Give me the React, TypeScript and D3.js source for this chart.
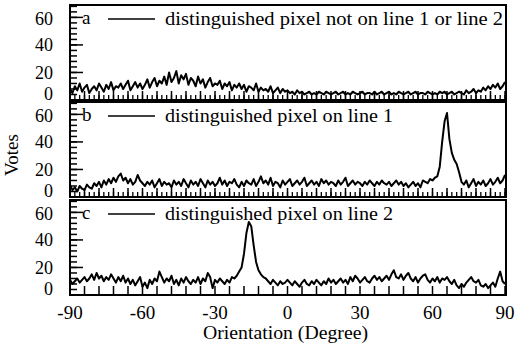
import React from "react";
import * as d3 from "d3";

// orientation bins, one per degree
const orientations = d3.range(-90, 91);

// votes, panel a: distinguished pixel not on line 1 or line 2
const votesA = [
  8, 5, 10, 7, 12, 6, 9, 11, 5, 8, 10,
  7, 12, 9, 6, 11, 8, 13, 7, 10, 9,
  12, 8, 11, 14, 7, 10, 13, 9, 12, 8,
  11, 15, 9, 13, 16, 10, 14, 12, 17, 11,
  20, 13, 16, 21, 12, 18, 15, 19, 11, 16,
  14, 10, 17, 12, 15, 9, 13, 16, 10, 12,
  11, 14, 8, 12, 10, 13, 7, 11, 9, 12,
  8, 11, 6, 10, 9, 7, 12, 6, 9, 7,
  8, 6, 10, 5, 7, 9, 5, 8, 6, 7,
  5, 6, 4, 7, 5, 6, 4, 5, 6, 4,
  5, 4, 6, 5, 4, 6, 5, 4, 5, 6,
  4, 5, 6, 4, 5, 4, 6, 5, 4, 5,
  6, 4, 5, 5, 4, 6, 4, 5, 6, 4,
  5, 6, 4, 5, 4, 6, 5, 4, 5, 6,
  4, 5, 6, 4, 5, 5, 4, 6, 5, 4,
  5, 4, 6, 5, 6, 4, 5, 6, 4, 5,
  6, 5, 4, 7, 5, 6, 8, 5, 7, 6,
  9, 7, 10, 8, 11, 9, 12, 8, 10, 13,
];

// votes, panel b: distinguished pixel on line 1
const votesB = [
  9, 5, 7, 4, 8, 6, 5, 9, 7, 6, 10,
  8, 11, 7, 12, 9, 13, 10, 14, 11, 15,
  17, 12, 14, 10, 13, 9, 11, 16, 12, 10,
  8, 11, 9, 12, 7, 10, 13, 8, 11, 9,
  10, 7, 12, 9, 11, 8, 13, 10, 7, 12,
  9, 11, 8, 13, 10, 7, 12, 9, 11, 8,
  10, 14, 9, 12, 8, 11, 10, 13, 9, 7,
  11, 8, 12, 10, 9, 13, 8, 11, 15, 10,
  12, 9, 14, 8, 11, 10, 7, 12, 9, 11,
  13, 8, 10, 12, 9, 11, 14, 8, 10, 12,
  9, 11, 8, 13, 10, 12, 9, 11, 10, 8,
  12, 9, 11, 14, 8, 10, 12, 9, 11, 10,
  8, 11, 9, 12, 10, 8, 11, 9, 12, 10,
  9, 11, 8, 10, 12, 9, 11, 8, 10, 7,
  9, 11, 8, 10, 7, 12, 11, 10, 13, 12,
  14, 15, 22, 40, 55, 61, 42, 32, 27, 24,
  18, 11, 9, 12, 7, 10, 13, 8, 11, 9,
  12, 8, 10, 13, 9, 11, 14, 10, 12, 16,
];

// votes, panel c: distinguished pixel on line 2
const votesC = [
  11, 8, 10, 12, 9, 11, 13, 10, 12, 15, 11,
  16, 12, 14, 10, 13, 11, 15, 12, 9, 13,
  10, 14, 9, 12, 8, 11, 7, 10, 13, 6,
  9, 5, 11, 8, 12, 10, 17, 13, 9, 12,
  10, 14, 8, 11, 7, 12, 9, 13, 10, 8,
  11, 9, 13, 8, 12, 10, 16, 13, 5, 11,
  9, 12, 10, 8, 11, 9, 13, 12, 14, 17,
  20, 30, 45, 53, 50, 36, 24, 18, 15, 13,
  12, 10, 8, 11, 9, 7, 10, 8, 9, 11,
  9, 7, 10, 8, 6, 9, 11, 8, 7, 10,
  8, 11, 9, 7, 10, 8, 12, 9, 11, 8,
  10, 12, 9, 11, 8, 13, 10, 14, 12, 9,
  11, 13, 10, 9, 12, 14, 11, 13, 10, 12,
  14, 11, 15, 18, 13, 12, 15, 11, 14, 16,
  12, 10, 13, 9, 12, 14, 15, 11, 9, 12,
  10, 13, 9, 12, 11, 13, 10, 8, 11, 7,
  5, 8, 6, 9, 11, 13, 10, 9, 11, 7,
  6, 8, 5, 7, 9, 6, 12, 17, 10, 8,
];

const panelLetters = ["a", "b", "c"];
const panelTexts = [
  "distinguished pixel not on line 1 or line 2",
  "distinguished pixel on line 1",
  "distinguished pixel on line 2",
];
const yTicks = [0, 20, 40, 60];
const xTicks = [-90, -60, -30, 0, 30, 60, 90];

const W = 516;
const H = 345;
const left = 70;
const right = 505;
const panelTops = [5, 102, 200];
const panelH = 95;
const serif = {
  fontFamily:
    '"Liberation Serif", "Times New Roman", Times, Tinos, "Noto Serif", "DejaVu Serif", serif',
};

const x = d3.scaleLinear().domain([-90, 90]).range([left, right]);

// small nudges so the 0 of one panel and the 60 of the next do not collide
const labelShift = (v: number) => (v === 0 ? -6 : v === 60 ? 1 : 0);

const Panel = ({ idx, votes }: { idx: number; votes: number[] }) => {
  const top = panelTops[idx];
  const y = d3.scaleLinear().domain([0, 69]).range([top + panelH, top]);
  const line = d3
    .line<number>()
    .x((_, i) => x(orientations[i]))
    .y((d) => y(d));
  const minorY = d3.range(0, 69, 4);
  const majorX = d3.range(-90, 91, 6);
  const minorX = idx < 2 ? d3.range(-90, 91, 2) : [];
  const base = y(0);
  return (
    <g>
      {minorY.map((v) => (
        <line key={"my" + v} x1={left} x2={left + 7} y1={y(v)} y2={y(v)} stroke="#000" strokeWidth={1.5} />
      ))}
      {yTicks.map((v) => (
        <g key={"y" + v}>
          <line x1={left} x2={left + 13} y1={y(v)} y2={y(v)} stroke="#000" strokeWidth={1.5} />
          <text x={53} y={y(v) + labelShift(v)} dy="0.35em" textAnchor="end" fontSize={18} style={serif}>
            {v}
          </text>
        </g>
      ))}
      {minorX.map((v) => (
        <line key={"mx" + v} x1={x(v)} x2={x(v)} y1={base} y2={base - 5} stroke="#000" strokeWidth={1.3} />
      ))}
      {majorX.map((v) => (
        <line key={"x" + v} x1={x(v)} x2={x(v)} y1={base} y2={base - 9} stroke="#000" strokeWidth={1.5} />
      ))}
      <path d={line(votes) || ""} fill="none" stroke="#000" strokeWidth={2} strokeLinejoin="round" />
      <rect x={left} y={top} width={right + 1 - left} height={panelH} fill="none" stroke="#000" strokeWidth={2} />
      <text x={82} y={top + 19} fontSize={19} style={serif}>
        {panelLetters[idx]}
      </text>
      <line x1={108} x2={155} y1={top + 14} y2={top + 14} stroke="#000" strokeWidth={1.5} />
      <text
        x={165}
        y={top + 20}
        fontSize={19}
        style={serif}
        textLength={idx === 0 ? 338 : 228}
        lengthAdjust="spacingAndGlyphs"
      >
        {panelTexts[idx]}
      </text>
    </g>
  );
};

export default function App() {
  const bottom = panelTops[2] + panelH;
  return (
    <svg width={W} height={H} style={{ position: "absolute", left: 0, top: 0, background: "#fff" }}>
      <rect width={W} height={H} fill="#fff" />
      {[votesA, votesB, votesC].map((v, i) => (
        <Panel key={i} idx={i} votes={v} />
      ))}
      {xTicks.map((v) => (
        <text key={v} x={x(v)} y={bottom + 24} textAnchor="middle" fontSize={19} style={serif}>
          {v}
        </text>
      ))}
      <text
        x={(left + right) / 2 - 2}
        y={bottom + 44}
        textAnchor="middle"
        fontSize={19}
        style={serif}
        textLength={165}
        lengthAdjust="spacingAndGlyphs"
      >
        Orientation (Degree)
      </text>
      <text transform={`translate(18,155) rotate(-90)`} textAnchor="middle" fontSize={19} style={serif}>
        Votes
      </text>
    </svg>
  );
}
